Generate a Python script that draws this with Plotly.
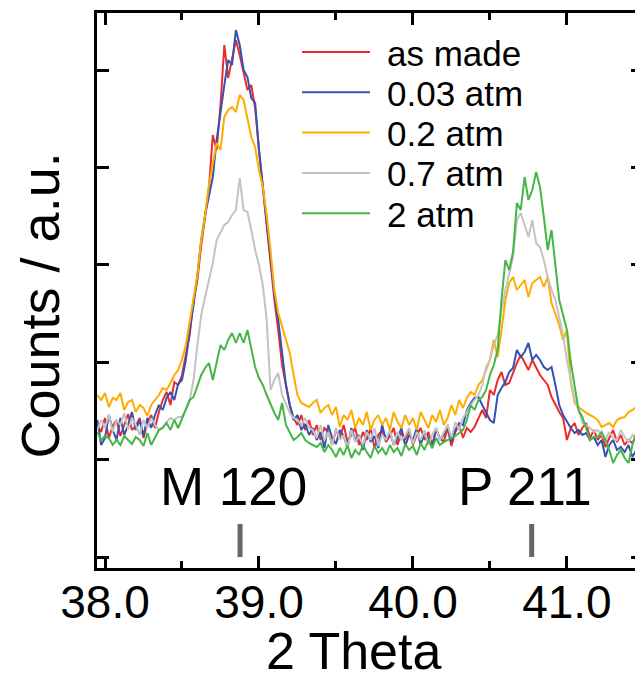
import plotly.graph_objects as go

# ---------------- data ----------------
SCAN_START = 37.95      # 2 theta of first point
SCAN_STEP = 0.025       # scan step

SERIES_NAMES = ["as made", "0.03 atm", "0.2 atm", "0.7 atm", "2 atm"]
SERIES_COLORS = ["#ee2b2b", "#3552b3", "#ffac00", "#c3c3c3", "#45b646"]

AS_MADE = [
    132,125,139,119,131,137,121,133,143,127,131,139,119,135,142,129,145,157,165,152,175,172,182,202,222,257,277,312,342,369,422,407,452,512,479,497,517,502,485,467,472,449,407,372,332,295,257,227,192,172,152,139,132,142,127,137,
    122,132,117,129,125,112,127,119,132,115,122,129,112,125,117,129,109,122,127,115,121,129,112,125,117,127,112,122,129,117,125,112,127,119,115,129,111,125,132,119,
    129,125,130,139,147,139,167,162,177,185,172,174,185,194,202,194,187,197,190,182,177,172,160,152,145,139,117,129,134,122,129,134,119,127,117,122,110,119,127,115,122,112,117,114,121,117,119,
]
ATM_003 = [
    137,112,119,142,127,117,139,122,132,145,127,137,121,139,129,142,152,147,159,165,157,173,177,197,227,252,282,317,
    342,362,380,417,447,472,497,492,527,512,487,480,459,454,407,372,
    337,302,262,237,202,172,152,137,142,127,133,122,
    129,117,125,109,132,119,113,127,121,109,129,117,122,107,127,115,121,109,132,117,125,112,119,129,111,122,117,129,112,125,119,109,129,117,122,132,115,127,
    134,132,147,154,159,160,152,144,137,134,162,169,175,185,189,207,200,205,214,197,202,197,190,187,190,172,152,142,135,129,124,127,
    122,124,117,120,112,117,100,112,117,107,110,105,112,100,107,102,100,
]
ATM_02 = [
    162,157,164,150,159,157,164,147,155,157,145,152,149,141,152,157,162,169,167,174,182,187,197,212,235,257,282,317,
    342,372,392,414,407,440,447,450,445,462,457,440,420,410,387,370,342,307,267,244,230,217,204,182,162,154,
    152,150,154,157,144,149,152,142,150,130,142,137,147,129,139,132,145,127,137,142,132,139,127,145,135,129,142,132,139,127,145,137,129,142,135,147,132,139,152,142,157,149,159,165,162,172,
    177,187,197,217,200,227,257,274,280,267,272,277,260,274,277,280,270,280,254,244,232,217,227,174,154,150,
    147,144,142,140,137,130,132,134,130,137,139,140,145,147,150,147,152,
]
ATM_07 = [
    127,137,129,142,125,137,132,144,127,139,132,122,137,129,139,132,127,130,135,139,137,140,
    140,147,157,177,212,242,260,277,294,317,324,332,335,342,347,379,347,345,327,307,292,272,237,167,177,184,162,152,144,139,137,
    132,139,129,
    127,119,132,117,125,112,129,117,122,109,127,115,121,112,125,117,129,111,122,117,127,112,125,117,121,129,113,125,117,127,112,122,129,117,125,132,119,135,127,139,145,152,157,162,
    172,190,197,212,222,247,267,282,300,337,344,332,320,337,314,310,297,280,267,257,240,222,197,177,157,147,134,
    132,129,125,127,122,117,125,119,117,127,120,115,122,117,112,119,
]
ATM_2 = [
    125,117,121,119,112,117,112,121,117,113,120,117,111,124,112,120,127,129,134,127,137,129,139,149,157,160,172,182,189,194,177,194,212,207,217,224,214,224,214,227,207,190,179,172,162,152,144,137,154,132,124,117,120,124,117,114,
    112,110,114,105,112,107,100,109,102,112,99,107,102,112,105,99,111,104,109,102,112,105,109,101,113,107,111,102,114,107,117,109,119,112,
    115,117,119,121,124,127,137,152,147,157,160,167,182,192,207,257,297,287,305,354,347,380,357,367,385,370,340,307,327,290,257,242,227,195,172,147,140,129,117,120,120,125,117,107,94,102,107,99,94,112,124,112,117,
]
SERIES = [AS_MADE, ATM_003, ATM_02, ATM_07, ATM_2]

REF_POSITIONS = [38.877, 40.771]     # reference reflections
REF_LABELS = ["M 120", "P 211"]
REF_MARK_SPAN = [0, 33]              # counts, extent of the reference marks
REF_LABEL_LEVEL = 71                 # counts, level of the reference labels

X_TICKS = [38.0, 39.0, 40.0, 41.0]
X_TICK_TEXT = ["38.0", "39.0", "40.0", "41.0"]

# ---------------- figure ----------------
FONT = "Liberation Sans, Arial, sans-serif"
OFF = 8                         # default body margin of the html page
W, H = 643 - OFF, 683 - OFF
# plot area in page pixels
PL, PR, PT, PB = 97, 643, 13, 568
PW, PH = PR - PL, PB - PT

def px_x(px):
    return (px - PL) / PW

def px_y(py):
    return (PB - py) / PH

fig = go.Figure()

n = len(AS_MADE)
two_theta = [round(SCAN_START + SCAN_STEP * i, 4) for i in range(n)]

for name, color, vals in zip(SERIES_NAMES, SERIES_COLORS, SERIES):
    fig.add_trace(go.Scatter(x=two_theta, y=vals, mode="lines", name=name,
                             line=dict(color=color, width=2), hoverinfo="skip"))

for pos in REF_POSITIONS:
    fig.add_trace(go.Scatter(x=[pos, pos], y=REF_MARK_SPAN, mode="lines",
                             line=dict(color="#666666", width=5), yaxis="y2",
                             hoverinfo="skip"))

for pos, lab in zip(REF_POSITIONS, REF_LABELS):
    fig.add_annotation(x=pos, y=REF_LABEL_LEVEL, xref="x", yref="y", text=lab,
                       showarrow=False, xanchor="center", yanchor="middle",
                       xshift=-7, font=dict(family=FONT, size=53, color="black"))

# custom legend
for k, (name, color) in enumerate(zip(SERIES_NAMES, SERIES_COLORS)):
    yp = 52 + 40.3 * k
    fig.add_shape(type="line", xref="paper", yref="paper",
                  x0=px_x(302), x1=px_x(370), y0=px_y(yp), y1=px_y(yp),
                  line=dict(color=color, width=2))
    fig.add_annotation(xref="paper", yref="paper", x=px_x(385), y=px_y(yp + 1),
                       text=name, showarrow=False, xanchor="left", yanchor="middle",
                       font=dict(family=FONT, size=35, color="black"))

# axis titles
fig.add_annotation(xref="paper", yref="paper", x=px_x(353), y=px_y(682),
                   text="2 Theta", showarrow=False, xanchor="center", yanchor="bottom",
                   font=dict(family=FONT, size=52, color="black"))
fig.add_annotation(xref="paper", yref="paper", x=px_x(39.5), y=px_y(306),
                   text="Counts / a.u.", showarrow=False, textangle=-90,
                   xanchor="center", yanchor="middle",
                   font=dict(family=FONT, size=54, color="black"))

yrange = [-11, 544]
ytick = dict(tick0=0, dtick=97.4)

fig.update_layout(
    width=W, height=H,
    margin=dict(l=PL - OFF, r=W - (PR - OFF), t=PT - OFF, b=H - (PB - OFF), pad=0),
    paper_bgcolor="white", plot_bgcolor="white",
    showlegend=False,
    font=dict(family=FONT, color="black"),
    xaxis=dict(range=[37.948, 41.494], showgrid=False, zeroline=False,
               showline=True, linecolor="black", linewidth=3, mirror="ticks",
               ticks="inside", ticklen=12, tickwidth=2.5, tickcolor="black",
               tickvals=X_TICKS, ticktext=X_TICK_TEXT,
               tickfont=dict(family=FONT, size=46, color="black"),
               ticklabelstandoff=-8,
               minor=dict(ticks="inside", ticklen=7, tickwidth=2.5, tickcolor="black",
                          tick0=38.5, dtick=1, showgrid=False)),
    yaxis=dict(range=yrange, showgrid=False, zeroline=False,
               showline=True, linecolor="black", linewidth=3, mirror=False,
               ticks="inside", ticklen=12, tickwidth=2.5, tickcolor="black",
               showticklabels=False, **ytick),
    yaxis2=dict(range=yrange, overlaying="y", side="right", matches="y",
                showgrid=False, zeroline=False, showline=False,
                ticks="inside", ticklen=12, tickwidth=2.5, tickcolor="black",
                showticklabels=False, **ytick),
)

fig.write_html("out.html")
